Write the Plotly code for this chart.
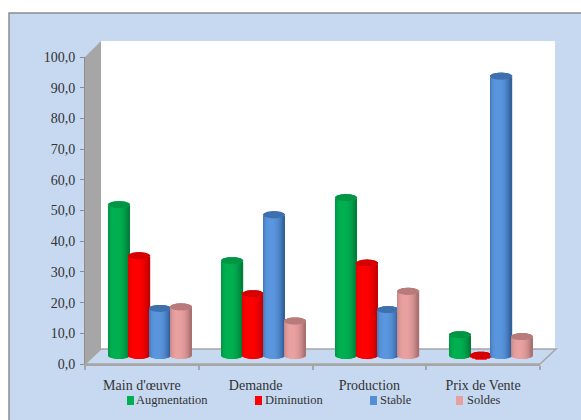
import plotly.graph_objects as go
import math

categories = ["Main d'œuvre", "Demande", "Production", "Prix de Vente"]
augmentation = [49.3, 31.0, 51.6, 6.8]
diminution = [32.6, 20.2, 30.2, 0.1]
stable = [15.4, 46.0, 15.0, 91.3]
soldes = [15.9, 11.3, 21.0, 6.2]

W, H = 581, 420
FONT = "Liberation Serif"
TXT = "#333333"
PANEL = "#C6D9F1"
EDGE = "#A6A6A6"

series = [
    ("Augmentation", augmentation, (0, 176, 80), (0, 122, 56), "rgb(0,150,68)", "#00B050"),
    ("Diminution", diminution, (255, 0, 0), (190, 0, 0), "rgb(214,0,0)", "#FF0000"),
    ("Stable", stable, (90, 150, 222), (46, 92, 150), "rgb(62,112,176)", "#558ED5"),
    ("Soldes", soldes, (232, 160, 160), (164, 108, 108), "rgb(184,122,122)", "#E6A0A0"),
]

def fx(px):
    return px / W

def fy(py):
    return 1 - py / H

AX_L, AX_R, AX_B, AX_T = 85, 540, 364, 57
DX, BASE_Y, SCALE = 8, 355.5, 3.06   # depth shift of the bars
N_STRIPS, BAR_W, STEP, CAP = 21, 0.185, 0.1825, 3.5 / 3.06
Y2_MIN = -4

def shade(t, main, dark):
    # t in [-1, 1]; brightest left of centre, darker at the edges, mostly to the right
    d = (t + 0.25) / (1.25 if t > -0.25 else 0.75)
    k = min(1.0, abs(d) ** (2.4 if t > -0.25 else 3) * (1.0 if t > -0.25 else 0.55))
    return "rgb(%d,%d,%d)" % tuple(round(m + (c - m) * k) for m, c in zip(main, dark))

fig = go.Figure()

# invisible carrier for the category axis
fig.add_trace(go.Scatter(x=categories, y=[0] * 4, mode="none", hoverinfo="skip", showlegend=False))

strip_w = BAR_W / N_STRIPS
for i, (name, values, main, dark, cap_col, _) in enumerate(series):
    xs, bases, heights, cols = [], [], [], []
    cx, cb, ch = [], [], []
    for g, v in enumerate(values):
        cen = g + (i - 1.5) * STEP
        for s in range(N_STRIPS):
            t = -1 + (2 * s + 1) / N_STRIPS
            arc = CAP * math.sqrt(max(0, 1 - t * t))
            x = cen + t * BAR_W / 2
            xs.append(x)
            bases.append(-arc)
            heights.append(v)
            cols.append(shade(t, main, dark))
            cx.append(x)
            cb.append(v - arc)
            ch.append(2 * arc)
    fig.add_trace(go.Bar(x=xs, y=heights, base=bases, width=strip_w * 1.35, name=name,
                         marker=dict(color=cols, line_width=0), xaxis="x2", yaxis="y2",
                         cliponaxis=False, showlegend=False, hoverinfo="skip"))
    fig.add_trace(go.Bar(x=cx, y=ch, base=cb, width=strip_w * 1.35, name=name + " (top)",
                         marker=dict(color=cap_col, line_width=0), xaxis="x2", yaxis="y2",
                         cliponaxis=False, showlegend=False, hoverinfo="skip"))

def poly(pts, **kw):
    d = "M " + " L ".join("%.5f %.5f" % (fx(x), fy(y)) for x, y in pts) + " Z"
    return dict(type="path", path=d, xref="paper", yref="paper", layer="below", **kw)

shapes = [
    poly([(9, 13), (W + 5, 13), (W + 5, H + 5), (9, H + 5)], fillcolor=PANEL, line=dict(color="#8C8C8C", width=1.5)),
    poly([(101, 41), (555, 41), (555, 349), (101, 349)], fillcolor="white", line=dict(width=0)),
    poly([(AX_L, 57), (101, 41), (101, 349), (AX_L, AX_B)], fillcolor="#A6A6A6", line=dict(width=0)),
    poly([(AX_L, AX_B), (101, 349), (556, 349), (AX_R, AX_B)], fillcolor=PANEL, line=dict(color=EDGE, width=1.5)),
]

annotations = []
legend_pos = [(127, 134), (255, 263), (370, 378), (456, 465)]
for (name, *_, col), (mx, tx) in zip(series, legend_pos):
    shapes.append(poly([(mx, 396), (mx + 7, 396), (mx + 7, 405), (mx, 405)], fillcolor=col, line=dict(width=0)))
    annotations.append(dict(text=name, xref="paper", yref="paper", x=fx(tx), y=fy(400),
                            xanchor="left", yanchor="middle", showarrow=False,
                            font=dict(family=FONT, size=12.5, color=TXT)))

fig.update_layout(
    width=W, height=H, margin=dict(l=0, r=0, t=0, b=0),
    paper_bgcolor="white", plot_bgcolor="rgba(0,0,0,0)",
    barmode="overlay", showlegend=False, separators=", ",
    shapes=shapes, annotations=annotations,
    xaxis=dict(type="category", categoryorder="array", categoryarray=categories, automargin=False,
               domain=[fx(AX_L), fx(AX_R)], range=[-0.5, 3.5], anchor="y",
               tickson="boundaries", ticks="outside", ticklen=4, tickcolor=EDGE, tickwidth=1.5,
               showline=True, linecolor=EDGE, linewidth=2, showgrid=False, zeroline=False,
               ticklabelstandoff=7, tickfont=dict(family=FONT, size=14, color=TXT)),
    yaxis=dict(domain=[fy(AX_B), fy(AX_T)], range=[0, 100], dtick=10, tickformat=".1f", anchor="x",
               automargin=False, ticklabelstandoff=2,
               ticks="outside", ticklen=4, tickcolor="#8C8C8C", showline=True, linecolor="#8C8C8C",
               linewidth=1, showgrid=False, zeroline=False,
               tickfont=dict(family=FONT, size=14, color=TXT)),
    xaxis2=dict(domain=[fx(AX_L + DX), fx(AX_R + DX)], range=[-0.5, 3.5], anchor="y2", visible=False,
                automargin=False),
    yaxis2=dict(domain=[fy(BASE_Y - Y2_MIN * SCALE), fy(BASE_Y - 100 * SCALE)], range=[Y2_MIN, 100],
                anchor="x2", visible=False, automargin=False),
)

fig.write_html("out.html", config=dict(displayModeBar=False),
               post_script="document.body.style.margin='0';document.documentElement.style.overflow='hidden';")
